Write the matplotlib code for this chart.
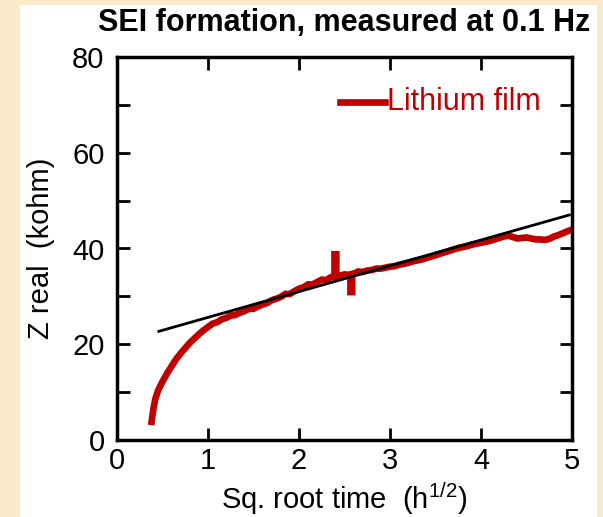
import matplotlib
matplotlib.use("Agg")
import matplotlib.pyplot as plt
from matplotlib.patches import Rectangle

# red measured curve: sqrt(time) vs Z real (kohm)
sqrt_t = [0.38, 0.40, 0.42, 0.45, 0.50, 0.55, 0.60, 0.65, 0.70, 0.75,
          0.80, 0.85, 0.90, 0.95, 1.00, 1.05, 1.10, 1.15, 1.20, 1.25,
          1.30, 1.35, 1.40, 1.45, 1.50, 1.55, 1.60, 1.65, 1.70, 1.75,
          1.80, 1.85, 1.90, 1.95, 2.00, 2.05, 2.10, 2.15, 2.20, 2.25,
          2.30, 2.35, 2.39, 2.39, 2.41, 2.41, 2.45, 2.50, 2.55, 2.565,
          2.565, 2.585, 2.585, 2.62, 2.65, 2.70, 2.75, 2.80, 2.85, 2.90,
          2.95, 3.00, 3.05, 3.10, 3.15, 3.20, 3.25, 3.30, 3.35, 3.40,
          3.45, 3.50, 3.55, 3.60, 3.65, 3.70, 3.75, 3.80, 3.85, 3.90,
          3.95, 4.00, 4.05, 4.10, 4.15, 4.20, 4.25, 4.30, 4.35, 4.40,
          4.45, 4.50, 4.55, 4.60, 4.65, 4.70, 4.75, 4.80, 4.85, 4.90,
          4.95, 4.98]
z_real = [3.8, 6.5, 8.5, 10.3, 12.2, 13.9, 15.4, 16.9, 18.1, 19.2,
          20.3, 21.2, 22.1, 22.9, 23.6, 24.3, 24.6, 25.2, 25.5, 26.0,
          26.1, 26.6, 26.9, 27.4, 27.4, 27.9, 28.3, 28.6, 29.2, 29.5,
          29.9, 30.5, 30.5, 31.1, 31.6, 31.9, 32.5, 32.5, 33.0, 33.5,
          33.4, 34.0, 34.0, 38.8, 38.8, 34.2, 34.3, 34.6, 34.5, 34.5,
          30.9, 30.9, 34.7, 34.9, 35.2, 35.1, 35.4, 35.5, 35.8, 35.8,
          36.0, 36.2, 36.3, 36.6, 36.8, 37.0, 37.3, 37.5, 37.7, 38.0,
          38.3, 38.6, 38.9, 39.2, 39.5, 39.8, 40.1, 40.3, 40.5, 40.8,
          41.0, 41.2, 41.4, 41.6, 41.9, 42.2, 42.5, 42.7, 42.4, 42.1,
          42.2, 42.3, 42.1, 41.9, 41.9, 41.8, 42.0, 42.5, 42.8, 43.2,
          43.6, 43.8]

# black linear fit end points
fit_x = [0.46, 4.97]
fit_y = [22.7, 47.0]

plt.rcParams['font.family'] = ['Liberation Sans', 'DejaVu Sans']
plt.rcParams['mathtext.fontset'] = 'custom'
plt.rcParams['mathtext.rm'] = 'Liberation Sans'

fig = plt.figure(figsize=(6.03, 5.17), dpi=100)
fig.patch.set_facecolor('#FAEACB')
fig.patches.append(Rectangle((20 / 603, 0), 577 / 603, 1 - 5 / 517,
                             transform=fig.transFigure, facecolor='white',
                             edgecolor='none', zorder=-10))

ax = fig.add_axes([117 / 603, 1 - 440 / 517, 455 / 603, 383 / 517])
ax.set_facecolor('white')

ax.plot(sqrt_t, z_real, color='#C00000', lw=4.8, solid_joinstyle='miter')
ax.plot(fit_x, fit_y, color='black', lw=2)

ax.set_xlim(0, 5)
ax.set_ylim(0, 80)
ax.set_xticks([0, 1, 2, 3, 4, 5])
ax.set_yticks([0, 20, 40, 60, 80])
ax.set_yticks([10, 30, 50, 70], minor=True)
ax.tick_params(which='both', direction='in', top=True, right=True,
               width=2, labelsize=21, length=9)
ax.tick_params(axis='y', pad=9)
ax.tick_params(axis='x', pad=5)
for s in ax.spines.values():
    s.set_linewidth(2.5)

ax.set_xlabel('Sq. root time  (h$^{\\mathregular{1/2}}$)', fontsize=21,
              labelpad=4)
ax.set_ylabel('Z real  (kohm)', fontsize=21, labelpad=12)
ax.set_title('SEI formation, measured at 0.1 Hz', fontsize=22,
             fontweight='bold', pad=19)

# legend drawn by hand like the original
ax.plot([2.45, 2.95], [70.5, 70.5], color='#C00000', lw=4.8)
ax.text(2.97, 70.5, 'Lithium film', color='#C00000', fontsize=22,
        va='center', ha='left')

fig.savefig('out.png', dpi=100, facecolor=fig.get_facecolor())
